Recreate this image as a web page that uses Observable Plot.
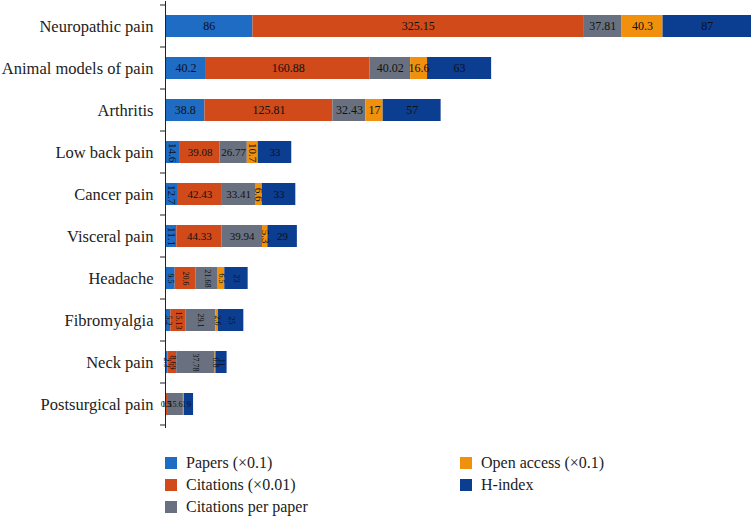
<!DOCTYPE html>
<html>
<head>
<meta charset="utf-8">
<script src="https://cdn.jsdelivr.net/npm/d3@7"></script>
<script src="https://cdn.jsdelivr.net/npm/@observablehq/plot@0.6"></script>
<style>
  body { margin: 0; background: #fff; font-family: "Liberation Serif", serif; }
  #wrap { width: 752px; }
  .legend { display: grid; grid-template-rows: repeat(3, 22px); grid-auto-flow: column;
            grid-template-columns: 295px 250px; margin-left: 165px; margin-top: 12px;
            font-size: 16px; color: #222; }
  .item { display: flex; align-items: center; }
  .sw { width: 12px; height: 12px; margin-right: 9px; display: inline-block; }
</style>
</head>
<body>
<div id="wrap"></div>
<script>
const categories = ["Neuropathic pain","Animal models of pain","Arthritis","Low back pain","Cancer pain","Visceral pain","Headache","Fibromyalgia","Neck pain","Postsurgical pain"];
const seriesNames = ["Papers (×0.1)","Citations (×0.01)","Citations per paper","Open access (×0.1)","H-index"];
const seriesColors = ["#1f6cc4","#d04a1a","#697180","#f0900c","#0b3d91"];
const papers     = [86, 40.2, 38.8, 14.6, 12.7, 11.1, 9.5, 5.2, 2.3, 0.5];
const citations  = [325.15, 160.88, 125.81, 39.08, 42.43, 44.33, 20.6, 15.13, 8.69, 1.5];
const perPaper   = [37.81, 40.02, 32.43, 26.77, 33.41, 39.94, 21.68, 29.1, 37.78, 15.6];
const openAccess = [40.3, 16.6, 17, 10.7, 6.6, 5.3, 6.5, 2.6, 0.8, 1];
const hIndex     = [87, 63, 57, 33, 33, 29, 23, 25, 11, 9];

const seriesValues = [papers, citations, perPaper, openAccess, hIndex];
const data = [];
categories.forEach((c, i) => {
  const total = d3.sum(seriesValues, s => s[i]);
  seriesValues.forEach((s, k) => {
    data.push({cat: c, series: seriesNames[k], value: s[i], total});
  });
});

const rotated = d => d.total > 40 && (d.total < 100 || d.value < 15);
const fsize = d => d.total < 100 ? 8 : d.total > 200 ? 12 : 11;

const chart = Plot.plot({
  width: 752,
  height: 440,
  marginLeft: 165,
  marginRight: 1,
  marginTop: 1,
  marginBottom: 12,
  style: {fontFamily: "Liberation Serif, serif", background: "#fff"},
  x: {axis: null, domain: [0, d3.max(data, d => d.total)]},
  y: {domain: categories, paddingInner: 0.48, paddingOuter: 0.24, label: null},
  color: {domain: seriesNames, range: seriesColors},
  marks: [
    Plot.barX(data, Plot.stackX({x: "value", y: "cat", z: "series", fill: "series", order: null})),
    Plot.text(data, Plot.stackX({
      x: "value", y: "cat", z: "series", order: null,
      text: d => String(d.value),
      rotate: d => rotated(d) ? 90 : 0,
      fontSize: fsize,
      fill: "#111"
    })),
    Plot.axisY({tickSize: 0, tickPadding: 12, fontSize: 16.5, fill: "#222", label: null}),
    Plot.ruleX([0], {stroke: "#222", strokeWidth: 1})
  ]
});

// tick marks at band boundaries
const ys = chart.scale("y");
const half = (ys.step - ys.bandwidth) / 2;
const bounds = categories.map(c => ys.apply(c) - half);
bounds.push(ys.apply(categories[categories.length - 1]) + ys.bandwidth + half);
const xs = chart.scale("x");
const x0 = xs.apply(0);
d3.select(chart).append("g")
  .selectAll("line").data(bounds).join("line")
  .attr("x1", x0 - 5).attr("x2", x0)
  .attr("y1", d => d).attr("y2", d => d)
  .attr("stroke", "#222");

const wrap = document.getElementById("wrap");
wrap.appendChild(chart);
const legend = document.createElement("div");
legend.className = "legend";
seriesNames.forEach((n, i) => {
  const it = document.createElement("div");
  it.className = "item";
  it.innerHTML = `<span class="sw" style="background:${seriesColors[i]}"></span>${n}`;
  legend.appendChild(it);
});
wrap.appendChild(legend);
</script>
</body>
</html>
